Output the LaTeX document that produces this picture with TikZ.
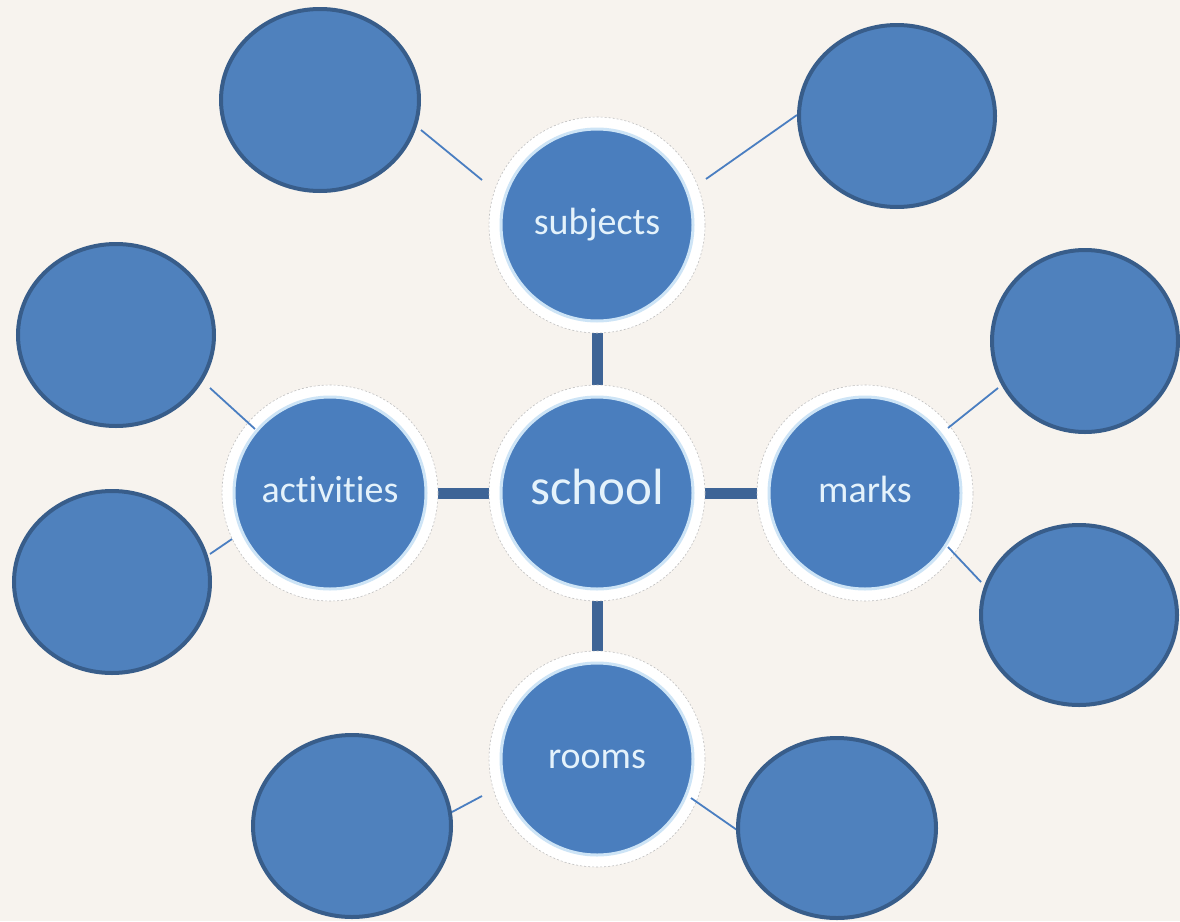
\documentclass[tikz,border=0pt]{standalone}
\usepackage{fontspec}
\setmainfont[Ligatures=NoCommon]{Carlito}
\usetikzlibrary{shapes.geometric}
\definecolor{bgcol}{RGB}{247,243,238}
\definecolor{hubblue}{RGB}{74,126,190}
\definecolor{hubglow}{RGB}{205,228,246}
\definecolor{leafblue}{RGB}{79,129,189}
\definecolor{leafedge}{RGB}{56,93,138}
\definecolor{barcol}{RGB}{62,100,150}
\definecolor{linecol}{RGB}{74,126,193}
\definecolor{txtcol}{RGB}{228,242,251}
\tikzset{
  ringbox/.style={circle, fill=white, draw=black!25, dash pattern=on 2pt off 2pt, line width=0.6pt, minimum size=216pt, inner sep=0pt},
  hub/.style={circle, fill=hubblue, draw=hubglow, line width=3pt, minimum size=192pt, inner sep=0pt, text=txtcol, font=\fontsize{38}{40}\selectfont, text height=26pt, text depth=7pt},
  bighub/.style={hub, font=\fontsize{51}{54}\selectfont, text height=34pt, text depth=11pt},
  leaf/.style={ellipse, fill=leafblue, draw=leafedge, line width=4pt, inner sep=0pt},
  bar/.style={draw=barcol, line width=11pt},
  thin/.style={draw=linecol, line width=1.8pt}
}
\begin{document}
\begin{tikzpicture}[x=1pt,y=-1pt]
\useasboundingbox (0,0) rectangle (1180,921);
\fill[bgcol] (0,0) rectangle (1180,921);
% hub centres
\coordinate (cS) at (597,225);
\coordinate (cC) at (597,493);
\coordinate (cA) at (330,493);
\coordinate (cM) at (865,493);
\coordinate (cR) at (597,759);
% thick bars
\draw[bar] (cS) -- (cC);
\draw[bar] (cC) -- (cR);
\draw[bar] (cA) -- (cC);
\draw[bar] (cC) -- (cM);
% rings
\node[ringbox] (rS) at (cS) {};
\node[ringbox] (rC) at (cC) {};
\node[ringbox] (rA) at (cA) {};
\node[ringbox] (rM) at (cM) {};
\node[ringbox] (rR) at (cR) {};
% thin connector end points
\coordinate (tl1) at (421,130); \coordinate (tl2) at (482,180);
\coordinate (tr1) at (797,115); \coordinate (tr2) at (706,179);
\coordinate (ru1) at (998,388); \coordinate (ru2) at (948,428);
\coordinate (rl1) at (981,582); \coordinate (rl2) at (948,547);
\coordinate (lu1) at (210,388); \coordinate (lu2) at (255,429);
\coordinate (ll1) at (210,554); \coordinate (ll2) at (232,539);
\coordinate (bl1) at (452,812); \coordinate (bl2) at (482,796);
\coordinate (br1) at (737,830); \coordinate (br2) at (691,798);
\draw[thin] (tl1) -- (tl2);
\draw[thin] (tr1) -- (tr2);
\draw[thin] (ru1) -- (ru2);
\draw[thin] (rl1) -- (rl2);
\draw[thin] (lu1) -- (lu2);
\draw[thin] (ll1) -- (ll2);
\draw[thin] (bl1) -- (bl2);
\draw[thin] (br1) -- (br2);
% hubs
\node[hub] (subjects) at (cS) {subjects};
\node[bighub] (school) at (cC) {school};
\node[hub] (activities) at (cA) {activities};
\node[hub] (marks) at (cM) {marks};
\node[hub] (rooms) at (cR) {rooms};
% leaves
\node[leaf, minimum width=198pt, minimum height=182pt] (lTL) at (320,100) {};
\node[leaf, minimum width=196pt, minimum height=182pt] (lTR) at (897,116) {};
\node[leaf, minimum width=186pt, minimum height=182pt] (lRU) at (1085,341) {};
\node[leaf, minimum width=196pt, minimum height=180pt] (lRL) at (1079,615) {};
\node[leaf, minimum width=196pt, minimum height=182pt] (lLU) at (116,335) {};
\node[leaf, minimum width=196pt, minimum height=182pt] (lLL) at (112,582) {};
\node[leaf, minimum width=198pt, minimum height=182pt] (lBL) at (352,826) {};
\node[leaf, minimum width=198pt, minimum height=180pt] (lBR) at (837,828) {};
\end{tikzpicture}
\end{document}
